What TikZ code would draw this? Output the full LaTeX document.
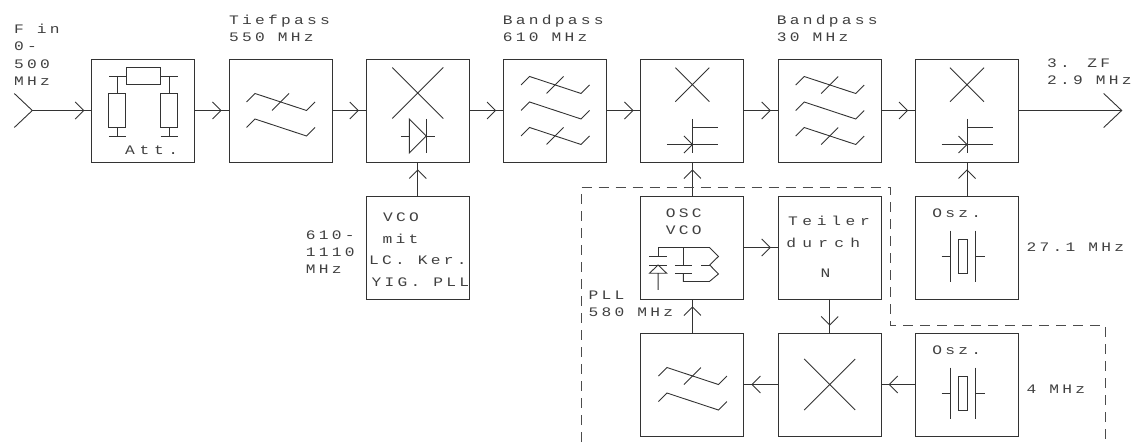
\documentclass[tikz,border=0pt]{standalone}
\usepackage{fontspec}
\usepackage{xcolor}
\usepackage{tikz}
\usetikzlibrary{positioning,decorations.markings}
\newfontfamily\plotfont[FakeStretch=1.25,LetterSpace=25]{Liberation Mono}
\newcommand{\plottype}{\plotfont\fontsize{13}{17.3}\selectfont}
\newcommand{\wideltr}[1]{\addfontfeature{LetterSpace=#1}}
\newcommand{\wavedraw}[1]{\draw[wire] (-34,#1) -- ++(8.5,8.5) -- ++(51.5,-17) -- ++(8.5,8.5);}
\newcommand{\wavecut}[1]{\draw[wire] (-8.5,#1-8.5) -- (8.5,#1+8.5);}
\tikzset{
wire/.style={line width=0.9pt,black!80},
lowpass/.pic={\wavedraw{8.5}\wavecut{8.5}\wavedraw{-17}},
bandpass/.pic={\wavedraw{25.5}\wavecut{25.5}\wavedraw{0}\wavedraw{-25.5}\wavecut{-25.5}},
bigcross/.pic={\draw[wire] (-25.5,-25.5) -- (25.5,25.5) (-25.5,25.5) -- (25.5,-25.5);},
smallcross/.pic={\draw[wire] (-17,-17) -- (17,17) (-17,17) -- (17,-17);},
diode/.pic={
\draw[wire] (-8.5,17) -- (-8.5,-17) -- (8.5,0) -- cycle;
\draw[wire] (8.5,17) -- (8.5,-17) (-17,0) -- (-8.5,0) (8.5,0) -- (17,0);
},
fet/.pic={
\draw[wire] (0,17) -- (0,-17) (0,8.5) -- (25.5,8.5) (-25.5,-8.5) -- (25.5,-8.5);
\draw[wire] (-8.5,0) -- (0,-8.5) -- (-8.5,-17);
},
crystal/.pic={
\draw[wire] (-16.8,16.8) -- (-16.8,-34.2) (8.8,16.8) -- (8.8,-34.2);
\draw[wire] (-8.2,8.2) rectangle (0.8,-25.5);
\draw[wire] (-25.5,-8.8) -- (-16.8,-8.8) (8.8,-8.8) -- (17.5,-8.8);
},
resistors/.pic={
\draw[wire] (-17.2,43.2) rectangle (17.5,26.2);
\draw[wire] (-34.2,34.5) -- (-17.2,34.5) (17.5,34.5) -- (34.5,34.5);
\foreach \sx in {-25.9,25.8} {
\draw[wire] (\sx-8.5,17.2) rectangle (\sx+8.5,-16.8);
\draw[wire] (\sx,34.5) -- (\sx,17.2) (\sx,-16.8) -- (\sx,-25.5) (\sx-8.5,-25.5) -- (\sx+8.5,-25.5);
}
},
tank/.pic={
\draw[wire] (-34.3,0) -- (17,0) -- (26,-9) -- (17.3,-17.5) -- (26,-26.5) -- (17,-34) -- (-9,-34) -- (-9,-25.8);
\draw[wire] (8.7,-17.5) -- (17.3,-17.5) (-9,0) -- (-9,-17.5);
\draw[wire] (-17.5,-17.5) -- (-0.5,-17.5) (-17.5,-25.8) -- (-0.5,-25.8);
\draw[wire] (-34.3,0) -- (-34.3,-8.5) (-43,-8.5) -- (-25.7,-8.5) (-43,-17.5) -- (-25.7,-17.5);
\draw[wire] (-43,-25.8) -- (-25.7,-25.8) -- (-34.3,-17.5) -- cycle (-34.3,-25.8) -- (-34.3,-42.5);
},
bigbarb/.pic={\draw[wire] (-18,17) -- (0,0) -- (-18,-17);}
}
\begin{document}
\begin{tikzpicture}[
x=1pt,y=1pt,
node distance=34pt and 34.3pt,
blockbox/.style={
draw=black!80,
line width=0.9pt,
minimum size=103pt,
inner sep=0pt,
outer sep=0pt
},
plotlabel/.style={
font=\plottype,
text=black!75,
align=left,
inner sep=0pt,
text height=9pt,
text depth=0pt
},
arrow/.style={
wire,
postaction={decorate},
decoration={markings,mark=at position -8pt with {
\draw[wire] (-8.5,8.5) -- (0,0) -- (-8.5,-8.5);
}}
},
noedge/.style={wire,black!70,dash pattern=on 10pt off 7pt}
]
\useasboundingbox (0,0) rectangle (1141,442);

\node (att) [blockbox] at (143.2,331.5) {};
\node (lowa) [blockbox,right=of att] {};
\node (mixa) [blockbox,right=of lowa] {};
\node (banda) [blockbox,right=of mixa] {};
\node (mixb) [blockbox,right=of banda] {};
\node (bandb) [blockbox,right=of mixb] {};
\node (mixc) [blockbox,right=of bandb] {};

\node (vco) [blockbox,below=of mixa] {};
\node (osc) [blockbox,below=of mixb] {};
\node (teiler) [blockbox,below=of bandb] {};
\node (osza) [blockbox,below=of mixc] {};

\node (lowb) [blockbox,below=of osc] {};
\node (mixd) [blockbox,below=of teiler] {};
\node (oszb) [blockbox,below=of osza] {};

\coordinate (in) at (32.3,331.5);
\coordinate (out) at (1121.7,331.5);
\coordinate (plla) at (581,0);
\coordinate (pllb) at (581,254.3);
\coordinate (pllc) at (890,254.3);
\coordinate (plld) at (890,117);
\coordinate (plle) at (1105,117);
\coordinate (pllf) at (1105,0);

\pic at (att) {resistors};
\pic at (lowa) {lowpass};
\pic at ([yshift=17.5pt]mixa) {bigcross};
\pic at ([yshift=-25.5pt]mixa) {diode};
\pic at (banda) {bandpass};
\pic at ([yshift=25.8pt]mixb) {smallcross};
\pic at ([yshift=-25.5pt]mixb) {fet};
\pic at (bandb) {bandpass};
\pic at ([yshift=25.8pt]mixc) {smallcross};
\pic at ([yshift=-25.5pt]mixc) {fet};
\pic at (osc) {tank};
\pic at (osza) {crystal};
\pic at (oszb) {crystal};
\pic at (lowb) {lowpass};
\pic at (mixd) {bigcross};
\pic at (in) {bigbarb};
\pic at (out) {bigbarb};

\node (fin) [plotlabel,anchor=north west] at (14,365.7) {F in\\0-\\500\\MHz};
\node (tieftxt) [plotlabel,above right=17.4pt and 0pt of lowa.north west] {Tiefpass\\550 MHz};
\node (bandatxt) [plotlabel,above right=17.4pt and -1pt of banda.north west] {Bandpass\\610 MHz};
\node (bandbtxt) [plotlabel,above right=17.4pt and -1.5pt of bandb.north west] {Bandpass\\30 MHz};
\node (zftxt) [plotlabel,anchor=north west] at (1047,366.7) {3. ZF\\2.9 MHz};
\node (atttxt) [plotlabel,below right=86.3pt and 33.3pt of att.north west] {\wideltr{36}Att.};
\node (freqtxt) [plotlabel,anchor=north west] at (305.7,177.4) {610-\\1110\\MHz};
\node (vcoa) [plotlabel,below right=16.6pt and 16.6pt of vco.north west] {VCO};
\node (vcob) [plotlabel,below right=38.6pt and 16pt of vco.north west] {mit};
\node (vcoc) [plotlabel,below right=59.3pt and 2.6pt of vco.north west] {LC. Ker.};
\node (vcod) [plotlabel,below right=81pt and 5pt of vco.north west] {YIG. PLL};
\node (osctxt) [plotlabel,below right=29.3pt and 24.7pt of osc.north west] {OSC\\VCO};
\node (teila) [plotlabel,below right=20pt and 9.6pt of teiler.north west] {\wideltr{36}Teiler};
\node (teilb) [plotlabel,below right=42pt and 8pt of teiler.north west] {\wideltr{48}durch};
\node (teilc) [plotlabel,below right=72pt and 42.3pt of teiler.north west] {N};
\node (oszatxt) [plotlabel,below right=12pt and 16.7pt of osza.north west] {Osz.};
\node (oszbtxt) [plotlabel,below right=12pt and 16.7pt of oszb.north west] {Osz.};
\node (pllfreq) [plotlabel,anchor=north west] at (588.3,134.4) {PLL\\580 MHz};
\node (oszafreq) [plotlabel,right=8pt of osza] {27.1 MHz};
\node (oszbfreq) [plotlabel,right=8pt of oszb,yshift=-4.3pt] {4 MHz};

\draw[arrow] (in) -- (att);
\draw[arrow] (att) -- (lowa);
\draw[arrow] (lowa) -- (mixa);
\draw[arrow] (mixa) -- (banda);
\draw[arrow] (banda) -- (mixb);
\draw[arrow] (mixb) -- (bandb);
\draw[arrow] (bandb) -- (mixc);
\draw[wire] (mixc) -- (out);

\draw[arrow] (vco) -- (mixa);
\draw[arrow] (osc) -- (mixb);
\draw[arrow] (osza) -- (mixc);
\draw[arrow] (osc) -- (teiler);
\draw[arrow] (teiler) -- (mixd);
\draw[arrow] (oszb) -- (mixd);
\draw[arrow] (mixd) -- (lowb);
\draw[arrow] (lowb) -- (osc);

\draw[noedge] (plla) -- (pllb) -- (pllc) -- (plld) -- (plle) -- (pllf);

\end{tikzpicture}
\end{document}
